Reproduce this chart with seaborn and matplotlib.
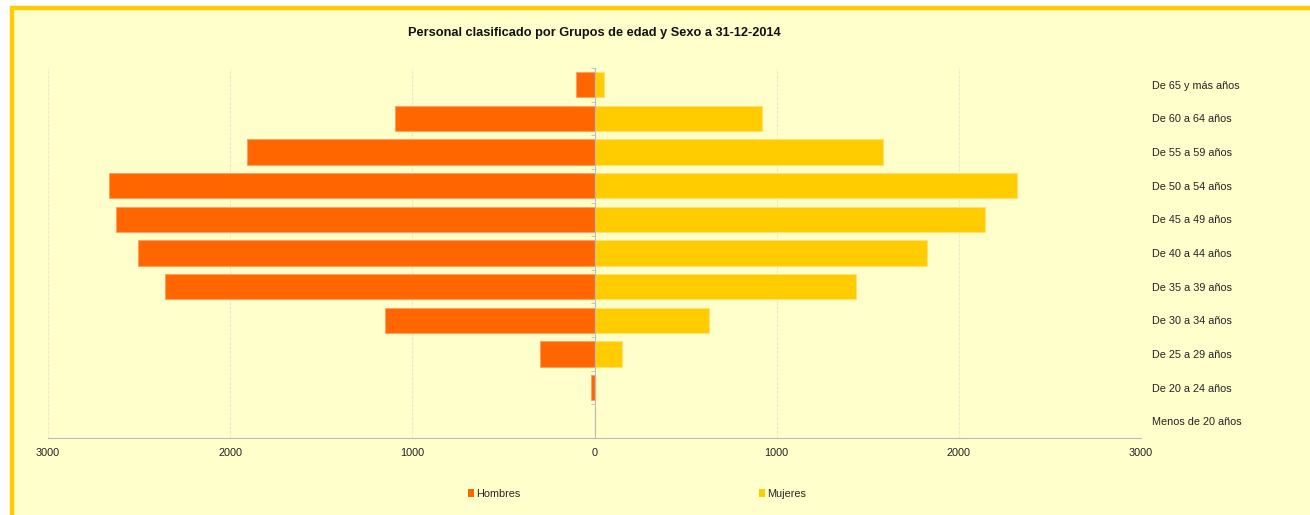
import matplotlib
matplotlib.use("Agg")
import matplotlib.pyplot as plt
from matplotlib.patches import Rectangle, Patch
import numpy as np
import pandas as pd
import seaborn as sns

# age groups, top to bottom as in the chart
grupos = ["De 65 y más años", "De 60 a 64 años", "De 55 a 59 años", "De 50 a 54 años",
          "De 45 a 49 años", "De 40 a 44 años", "De 35 a 39 años", "De 30 a 34 años",
          "De 25 a 29 años", "De 20 a 24 años", "Menos de 20 años"]
hombres = [99, 1097, 1906, 2663, 2629, 2506, 2358, 1150, 301, 19, 0]
mujeres = [53, 918, 1581, 2320, 2145, 1826, 1435, 630, 153, 0, 0]
ticks = [-3000, -2000, -1000, 0, 1000, 2000, 3000]
tick_labels = ["3000", "2000", "1000", "0", "1000", "2000", "3000"]

naranja = "#FF6600"
amarillo = "#FFCC00"
fondo = "#FFFFCC"

sns.set_style("white")
plt.rcParams["font.family"] = ["Liberation Sans", "DejaVu Sans"]

fig = plt.figure(figsize=(13.1, 5.15), dpi=100)
fig.patch.set_facecolor("white")
# yellow frame around the chart area
fig.patches.append(Rectangle((12 / 1310, -0.1), 1.2, 1 - 7.5 / 515 + 0.1,
                             transform=fig.transFigure, facecolor=fondo,
                             edgecolor=amarillo, linewidth=3.2, zorder=-1))

ax = fig.add_axes([48 / 1310, 1 - 438 / 515, 1093 / 1310, 370 / 515])
ax.set_zorder(2)
ax.set_facecolor("none")

df = pd.DataFrame({"grupo": grupos, "Hombres": hombres, "Mujeres": mujeres})
sns.barplot(data=df, x=-df["Hombres"], y="grupo", order=grupos, orient="h",
            color=naranja, saturation=1, width=0.75, edgecolor="#FFA060",
            linewidth=0.8, ax=ax, zorder=3)
sns.barplot(data=df, x="Mujeres", y="grupo", order=grupos, orient="h",
            color=amarillo, saturation=1, width=0.75, edgecolor="#FFE070",
            linewidth=0.8, ax=ax, zorder=3)

ax.set_xlim(-3000, 3000)
ax.set_ylim(len(grupos) - 0.5, -0.5)
ax.set_xticks(ticks)
ax.set_xticklabels(tick_labels, fontsize=7.8, color="#222222")
ax.tick_params(axis="x", length=0, pad=7)
for t in ticks:
    if t != 0:
        ax.axvline(t, color="#ECECCC", linewidth=0.8, linestyle=(0, (3, 1)), zorder=1)

# y axis sits on zero, labels go on the right
ax.spines["left"].set_position(("data", 0))
ax.spines["left"].set_color("#BBBBBB")
ax.spines["left"].set_zorder(4)
ax.spines["bottom"].set_color("#BBBBBB")
ax.spines["top"].set_visible(False)
ax.spines["right"].set_visible(False)
ax.set_yticks(np.arange(len(grupos) + 1) - 0.5, minor=True)
ax.tick_params(axis="y", which="major", left=False, right=False,
               labelleft=False, labelright=True, labelsize=7.8,
               labelcolor="#222222", pad=4.5)
ax.tick_params(axis="y", which="minor", left=True, length=3, color="#BBBBBB")
ax.set_xlabel("")
ax.set_ylabel("")

fig.suptitle("Personal clasificado por Grupos de edad y Sexo a 31-12-2014",
             x=594.5 / 1310, y=1 - 33 / 515, va="center", fontsize=9.2,
             fontweight="bold", color="#111111")

handles = [Patch(facecolor=naranja, edgecolor="none", label="Hombres"),
           Patch(facecolor=amarillo, edgecolor="none", label="Mujeres")]
fig.legend(handles=handles, loc="center", bbox_to_anchor=(637 / 1310, 1 - 494 / 515),
           ncol=2, frameon=False, fontsize=7.8, handlelength=0.6, handleheight=0.8,
           handletextpad=0.2, columnspacing=22)

fig.savefig("out.png", dpi=100, facecolor=fig.get_facecolor())
